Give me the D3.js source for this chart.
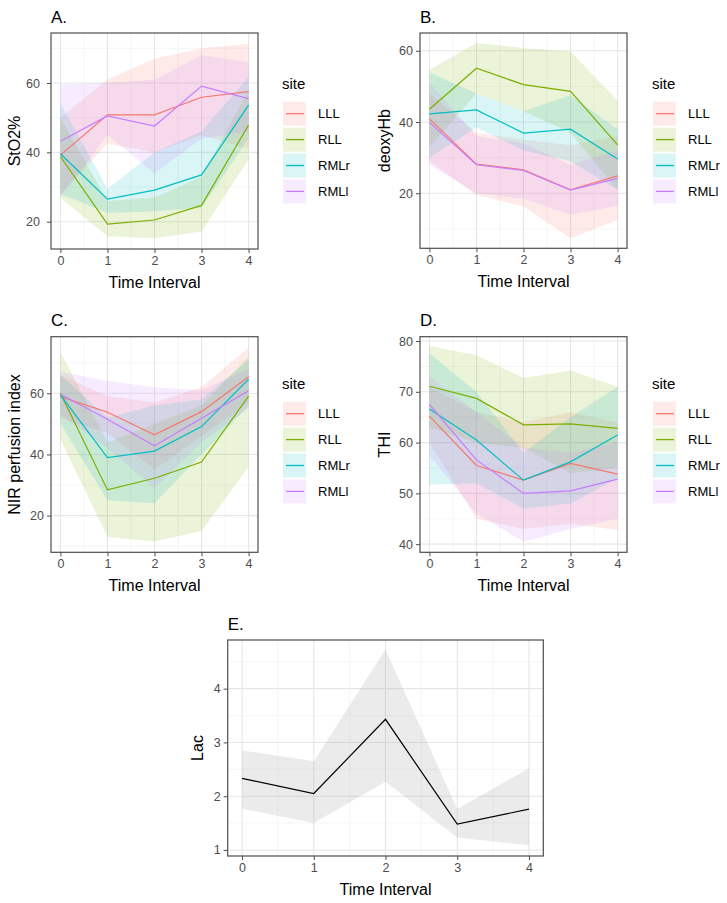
<!DOCTYPE html>
<html><head><meta charset="utf-8">
<script src="https://cdn.jsdelivr.net/npm/d3@7"></script>
<style>body{margin:0;background:#fff}svg{display:block}text{font-family:"Liberation Sans",Arial,sans-serif}</style>
</head><body>
<svg id="c" width="727" height="903"></svg>
<script>
const times = [0, 1, 2, 3, 4];
const sites = ["LLL", "RLL", "RMLr", "RMLl"];
const siteColors = ["#F8766D", "#7CAE00", "#00BFC4", "#C77CFF"];

// A. StO2% (rows in site order)
const stoMean = [[39.2, 50.8, 50.8, 55.9, 57.5], [38.8, 19.3, 20.5, 24.7, 47.9], [39.6, 26.5, 29.1, 33.5, 53.6], [43.2, 50.5, 47.6, 59.1, 55.5]];
const stoLo = [[28, 42.5, 40, 45, 41], [27, 15.8, 15.2, 17.2, 38], [28, 22.5, 23, 24, 44], [27, 45, 34, 44, 46]];
const stoHi = [[50, 61, 67, 70, 71.3], [50, 26, 27, 33, 58], [54.2, 29.5, 40, 46, 61.8], [59.6, 60, 61, 68, 66]];

// B. deoxyHb
const hbMean = [[40.9, 28.2, 26.6, 21.0, 24.9], [43.6, 55.1, 50.5, 48.6, 33.6], [42.3, 43.4, 36.9, 38.0, 29.6], [39.9, 28.0, 26.4, 20.9, 24.2]];
const hbLo = [[29, 19.5, 16.3, 7.4, 12.5], [33, 48, 43, 37, 21], [30, 38.5, 32, 29, 21], [28, 20, 18.5, 14, 16.5]];
const hbHi = [[48, 37, 35, 33.5, 36], [54.6, 62.2, 60.8, 59.8, 46], [54, 48, 43, 47.5, 38], [51, 36, 34, 28, 32]];

// C. NIR perfusion index
const nirMean = [[58.9, 53.8, 46.4, 54.0, 65.4], [60.0, 28.4, 32.2, 37.5, 59.1], [59.5, 39.0, 41.1, 49.1, 64.6], [59.7, 51.5, 42.8, 51.8, 60.8]];
const nirLo = [[52, 47, 35, 46, 57], [45, 13, 11.5, 15, 36], [50, 25, 24, 40, 56], [53, 42, 29, 44, 55]];
const nirHi = [[66, 59, 57, 62, 75], [73.5, 44, 50, 56, 72], [66, 52, 56, 58, 71], [67, 64, 62, 61, 68]];

// D. THI
const thiMean = [[65.2, 55.5, 52.6, 55.9, 53.8], [71.1, 68.7, 63.5, 63.7, 62.8], [66.6, 60.5, 52.6, 56.2, 61.5], [67.5, 56.6, 50.0, 50.5, 52.8]];
const thiLo = [[60, 45, 43, 44, 42.8], [63, 60, 59, 54, 55], [51.7, 52, 47, 48, 53], [57.5, 46, 40.5, 43, 45]];
const thiHi = [[71, 66, 64, 66, 64], [79, 77.2, 72.7, 74.2, 71], [77.6, 70, 58, 65, 71], [73, 66, 59, 58, 60]];

// E. Lac
const lacMean = [2.33, 2.05, 3.43, 1.48, 1.76];
const lacLo = [1.77, 1.50, 2.27, 1.23, 1.09];
const lacHi = [2.85, 2.65, 4.73, 1.76, 2.52];

const svg = d3.select("#c");

function panel(o) {
  const g = svg.append("g");
  const x = d3.scaleLinear().domain([-0.2, 4.2]).range([o.x0, o.x1]);
  const y = d3.scaleLinear().domain(o.yDomain).range([o.y1, o.y0]);
  // background grid
  const grid = g.append("g");
  o.yMinor.forEach(v => grid.append("line").attr("x1", o.x0).attr("x2", o.x1).attr("y1", y(v)).attr("y2", y(v)).attr("stroke", "#f2f2f2").attr("stroke-width", 0.7));
  [0.5, 1.5, 2.5, 3.5].forEach(v => grid.append("line").attr("x1", x(v)).attr("x2", x(v)).attr("y1", o.y0).attr("y2", o.y1).attr("stroke", "#f2f2f2").attr("stroke-width", 0.7));
  o.yTicks.forEach(v => grid.append("line").attr("x1", o.x0).attr("x2", o.x1).attr("y1", y(v)).attr("y2", y(v)).attr("stroke", "#e6e6e6").attr("stroke-width", 1.1));
  times.forEach(v => grid.append("line").attr("x1", x(v)).attr("x2", x(v)).attr("y1", o.y0).attr("y2", o.y1).attr("stroke", "#e6e6e6").attr("stroke-width", 1.1));

  const area = d3.area().x((d, i) => x(times[i])).y0(d => y(d[0])).y1(d => y(d[1]));
  const line = d3.line().x((d, i) => x(times[i])).y(d => y(d));
  o.series.forEach(s => {
    g.append("path").attr("d", area(s.lo.map((v, i) => [v, s.hi[i]]))).attr("fill", s.fill).attr("fill-opacity", s.alpha);
  });
  o.series.forEach(s => {
    g.append("path").attr("d", line(s.mean)).attr("fill", "none").attr("stroke", s.color).attr("stroke-width", 1.2);
  });
  // border
  g.append("rect").attr("x", o.x0).attr("y", o.y0).attr("width", o.x1 - o.x0).attr("height", o.y1 - o.y0).attr("fill", "none").attr("stroke", "#4d4d4d").attr("stroke-width", 1.2);
  // axes
  const ax = g.append("g").attr("transform", `translate(0,${o.y1})`).call(d3.axisBottom(x).tickValues(times).tickFormat(d3.format("d")).tickSize(4).tickPadding(3));
  const ay = g.append("g").attr("transform", `translate(${o.x0},0)`).call(d3.axisLeft(y).tickValues(o.yTicks).tickFormat(d3.format("d")).tickSize(4).tickPadding(o.pad || 3));
  [ax, ay].forEach(a => {
    a.attr("font-size", null).attr("font-family", null);
    a.select(".domain").remove();
    a.selectAll(".tick line").attr("stroke", "#4d4d4d").attr("stroke-width", 1);
    a.selectAll(".tick text").attr("fill", "#4d4d4d").style("font-size", "12.5px");
  });
  // titles
  g.append("text").attr("x", o.x0).attr("y", o.y0 - 10.5).text(o.title).style("font-size", "17px").attr("fill", "#000");
  g.append("text").attr("x", (o.x0 + o.x1) / 2).attr("y", o.y1 + 39).attr("text-anchor", "middle").text("Time Interval").style("font-size", "16px");
  g.append("text").attr("transform", `translate(${o.yTitleX},${(o.y0 + o.y1) / 2}) rotate(-90)`).attr("text-anchor", "middle").text(o.yTitle).style("font-size", "16px");
  // legend
  if (o.legend) {
    const L = o.legend;
    g.append("text").attr("x", L.x).attr("y", L.y).text("site").style("font-size", "15px");
    sites.forEach((s, i) => {
      const ky = L.y + 12.7 + i * 25.9;
      g.append("rect").attr("x", L.x + 1).attr("y", ky).attr("width", 23).attr("height", 24).attr("fill", siteColors[i]).attr("fill-opacity", 0.15);
      g.append("line").attr("x1", L.x + 4).attr("x2", L.x + 22).attr("y1", ky + 12).attr("y2", ky + 12).attr("stroke", siteColors[i]).attr("stroke-width", 1.3);
      g.append("text").attr("x", L.x + 36).attr("y", ky + 16.5).text(s).style("font-size", "13px");
    });
  }
}

function siteSeries(mean, lo, hi) {
  return sites.map((s, i) => ({ mean: mean[i], lo: lo[i], hi: hi[i], color: siteColors[i], fill: siteColors[i], alpha: 0.15 }));
}

panel({ title: "A.", yTitle: "StO2%", x0: 51, x1: 258, y0: 33, y1: 249, yDomain: [12.13, 74.42], yTicks: [20, 40, 60], yMinor: [30, 50, 70], yTitleX: 20, pad: 7,
  series: siteSeries(stoMean, stoLo, stoHi), legend: { x: 282, y: 89 } });
panel({ title: "B.", yTitle: "deoxyHb", x0: 420, x1: 627, y0: 33, y1: 248.3, yDomain: [4.55, 65], yTicks: [20, 40, 60], yMinor: [10, 30, 50], yTitleX: 390,
  series: siteSeries(hbMean, hbLo, hbHi), legend: { x: 652, y: 89 } });
panel({ title: "C.", yTitle: "NIR perfusion index", x0: 51, x1: 258, y0: 336.7, y1: 552.3, yDomain: [8, 78.5], yTicks: [20, 40, 60], yMinor: [10, 30, 50, 70], yTitleX: 20,
  series: siteSeries(nirMean, nirLo, nirHi), legend: { x: 282, y: 389 } });
panel({ title: "D.", yTitle: "THI", x0: 420, x1: 627, y0: 336.7, y1: 552.3, yDomain: [38.4, 80.85], yTicks: [40, 50, 60, 70, 80], yMinor: [45, 55, 65, 75], yTitleX: 390,
  series: siteSeries(thiMean, thiLo, thiHi), legend: { x: 652, y: 389 } });
panel({ title: "E.", yTitle: "Lac", x0: 227.7, x1: 543.3, y0: 640, y1: 856, yDomain: [0.888, 4.905], yTicks: [1, 2, 3, 4], yMinor: [1.5, 2.5, 3.5, 4.5], yTitleX: 203,
  series: [{ mean: lacMean, lo: lacLo, hi: lacHi, color: "#000", fill: "#999", alpha: 0.2 }] });
</script>
</body></html>
